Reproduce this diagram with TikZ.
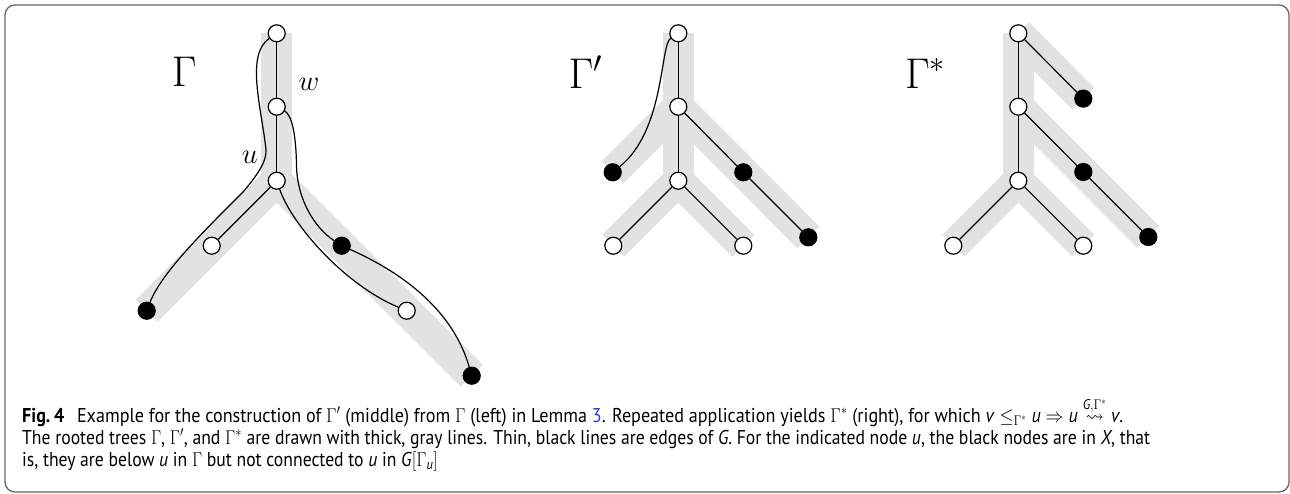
\RequirePackage{fix-cm}
\documentclass[tikz,border=0pt]{standalone}
\usepackage{amsmath,amssymb}
\usepackage{graphicx}
\usepackage{fontspec}
\setsansfont{PT Sans}
\usetikzlibrary{backgrounds}
\definecolor{treegray}{gray}{0.885}
\definecolor{linkblue}{RGB}{40,60,220}
\definecolor{framegray}{gray}{0.4}
\newsavebox\capboxA
\newsavebox\capboxB
\newsavebox\capboxC
\newlength\capwA
\newlength\capwB
\newcommand\capfont{\fontsize{20}{24}\selectfont\sffamily}
\begin{document}
\sbox\capboxA{\capfont{\bfseries Fig.\hspace{0.2em}4}\hspace{0.7em}Example for the construction of $\Gamma'$ (middle) from $\Gamma$ (left) in Lemma \textcolor{linkblue}{3}. Repeated application yields $\Gamma^*$ (right), for which \textit{v} $\leq_{\Gamma^*}$ \textit{u} $\Rightarrow$ \textit{u} $\stackrel{\textit{G},\Gamma^*}{\rightsquigarrow}$ \textit{v}.}%
\sbox\capboxB{\capfont The rooted trees $\Gamma$, $\Gamma'$, and $\Gamma^*$ are drawn with thick, gray lines. Thin, black lines are edges of \textit{G}. For the indicated node \textit{u}, the black nodes are in \textit{X}, that}%
\sbox\capboxC{\capfont is, they are below \textit{u} in $\Gamma$ but not connected to \textit{u} in \textit{G}$[\Gamma_{\textit{u}}]$}%
\setlength\capwA{\wd\capboxA}%
\setlength\capwB{\wd\capboxB}%
\pgfmathsetmacro\sxA{1101/\capwA}%
\pgfmathsetmacro\sxB{1128/\capwB}%
\begin{tikzpicture}[x=1pt,y=1pt,
  tree/.style={treegray, line width=31pt, line cap=butt},
  edge/.style={black, line width=1.2pt},
  wn/.style={circle, draw=black, fill=white, line width=1.2pt, minimum size=17pt, inner sep=0pt},
  bn/.style={circle, draw=black, fill=black, line width=1.2pt, minimum size=17pt, inner sep=0pt},
  biglbl/.style={font=\fontsize{43}{43}\selectfont, inner sep=0pt, anchor=base west},
  smlbl/.style={font=\fontsize{28.5}{28.5}\selectfont, inner sep=0pt, anchor=base west},
  capline/.style={inner sep=0pt, anchor=base west, text=black!88}
]
\useasboundingbox (0,0) rectangle (1290,-493);
\draw[framegray, line width=1.3pt, rounded corners=10pt] (5,-5) rectangle (1289,-492);

% ---- Gamma (left) ----
\node[wn] (R1) at (276.7,-33.3) {};
\node[wn] (W1) at (276.7,-106.7) {};
\node[wn] (U1) at (276.7,-180.7) {};
\node[wn] (WL1) at (211.7,-245.7) {};
\node[bn] (BL1) at (146.7,-310.7) {};
\node[bn] (BM1) at (341.7,-245.7) {};
\node[wn] (WR1) at (406.7,-310.7) {};
\node[bn] (BR1) at (471.7,-375.7) {};

% ---- Gamma' (middle) ----
\node[wn] (R2) at (678.3,-33.3) {};
\node[wn] (M2) at (678.3,-106.7) {};
\node[wn] (L2) at (678.3,-180.7) {};
\node[bn] (BL2) at (612.7,-172.3) {};
\node[bn] (BR2) at (743.3,-172.3) {};
\node[bn] (FR2) at (808.3,-237.3) {};
\node[wn] (WBL2) at (613.3,-245.7) {};
\node[wn] (WBR2) at (743.3,-245.7) {};

% ---- Gamma* (right) ----
\node[wn] (R3) at (1018.3,-33.3) {};
\node[wn] (M3) at (1018.3,-106.7) {};
\node[wn] (L3) at (1018.3,-180.7) {};
\node[bn] (TR3) at (1083.3,-98.6) {};
\node[bn] (MR3) at (1083.3,-172) {};
\node[bn] (FR3) at (1148.3,-237) {};
\node[wn] (WBL3) at (953.3,-245.7) {};
\node[wn] (WBR3) at (1083.3,-245.7) {};

\begin{pgfonlayer}{background}
% gray trees
\draw[tree] (R1.center) -- (U1.center);
\draw[tree] (U1.center) -- (BL1.center);
\draw[tree] (U1.center) -- (BR1.center);
\draw[tree] (R2.center) -- (L2.center);
\draw[tree] (M2.center) -- (BL2.center);
\draw[tree] (M2.center) -- (FR2.center);
\draw[tree] (L2.center) -- (WBL2.center);
\draw[tree] (L2.center) -- (WBR2.center);
\draw[tree] (R3.center) -- (L3.center);
\draw[tree] (R3.center) -- (TR3.center);
\draw[tree] (M3.center) -- (FR3.center);
\draw[tree] (L3.center) -- (WBL3.center);
\draw[tree] (L3.center) -- (WBR3.center);
% edges of G
\draw[edge] (R1) -- (W1);
\draw[edge] (W1) -- (U1);
\draw[edge] (U1) -- (WL1);
\draw[edge] (R1) .. controls (245,-55) and (262,-110) .. (266,-150)
  .. controls (267,-162) and (255,-178) .. (243,-192)
  .. controls (205,-230) and (162,-272) .. (BL1);
\draw[edge] (W1) .. controls (292,-115) and (296,-135) .. (296.5,-165)
  .. controls (297,-200) and (315,-228) .. (BM1);
\draw[edge] (BM1) .. controls (385,-265) and (450,-300) .. (BR1);
\draw[edge] (U1) .. controls (292,-225) and (345,-285) .. (WR1);

\draw[edge] (R2) -- (M2);
\draw[edge] (M2) -- (L2);
\draw[edge] (M2) -- (BR2);
\draw[edge] (BR2) -- (FR2);
\draw[edge] (L2) -- (WBL2);
\draw[edge] (L2) -- (WBR2);
\draw[edge] (R2) .. controls (660,-45) and (665,-130) .. (BL2);

\draw[edge] (R3) -- (M3);
\draw[edge] (M3) -- (L3);
\draw[edge] (R3) -- (TR3);
\draw[edge] (M3) -- (MR3);
\draw[edge] (MR3) -- (FR3);
\draw[edge] (L3) -- (WBL3);
\draw[edge] (L3) -- (WBR3);
\end{pgfonlayer}

% labels
\node[biglbl] (g1) at (171.7,-86.7) {$\Gamma$};
\node[biglbl] (g2) at (568.3,-88) {$\Gamma'$};
\node[biglbl] (g3) at (905,-88) {$\Gamma^*$};
\node[smlbl] (lu) at (241.7,-163.3) {$u$};
\node[smlbl] (lw) at (298.3,-90) {$w$};

% caption
\node[capline] (c1) at (22,-422) {\scalebox{\sxA}[1]{\usebox\capboxA}};
\node[capline] (c2) at (22,-444) {\scalebox{\sxB}[1]{\usebox\capboxB}};
\node[capline] (c3) at (22,-466) {\scalebox{\sxB}[1]{\usebox\capboxC}};
\end{tikzpicture}
\end{document}
